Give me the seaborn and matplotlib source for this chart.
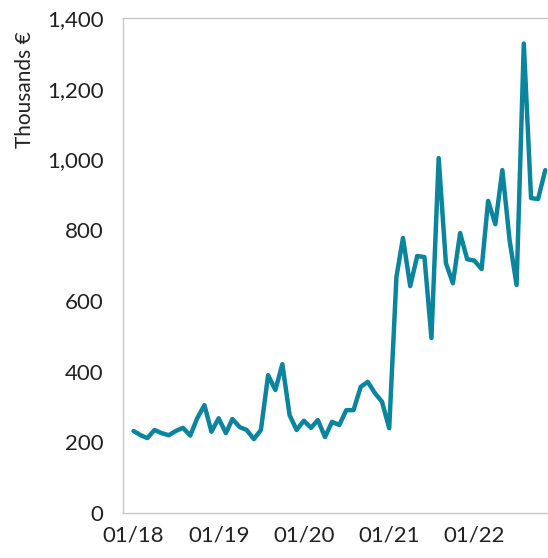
import numpy as np
import pandas as pd
import matplotlib
matplotlib.use("Agg")
import matplotlib.pyplot as plt
import matplotlib.dates as mdates
from matplotlib.ticker import FuncFormatter
import seaborn as sns

# monthly values, thousands of euros, Jan 2018 - Nov 2022
values = [
    232, 220, 212, 235, 226, 220, 232, 241, 219, 268, 305, 230,
    268, 226, 266, 243, 235, 209, 235, 390, 348, 421, 277, 235,
    261, 241, 263, 215, 258, 249, 291, 291, 357, 371, 339, 315,
    240, 668, 778, 642, 727, 724, 495, 1004, 707, 650, 792, 718,
    714, 690, 883, 817, 970, 772, 645, 1328, 891, 888, 970,
]
months = pd.date_range("2018-01-01", periods=len(values), freq="MS")
year_ticks = pd.to_datetime(["2018-01-01", "2019-01-01", "2020-01-01",
                             "2021-01-01", "2022-01-01"])
y_ticks = [0, 200, 400, 600, 800, 1000, 1200, 1400]

df = pd.DataFrame({"month": months, "value": values})

sns.set_theme(style="white")
plt.rcParams['font.family'] = ['Lato', 'DejaVu Sans']

fig = plt.figure(figsize=(5.48, 5.58), dpi=100)
ax = fig.add_axes([0.2245, 0.0806, 0.785, 0.887])

sns.lineplot(data=df, x="month", y="value", ax=ax, color="#0B849E", linewidth=3.2)

ax.set_ylim(0, 1400)
ax.set_yticks(y_ticks)
ax.yaxis.set_major_formatter(FuncFormatter(lambda v, p: f"{int(v):,}"))
ax.set_xlim(pd.Timestamp("2017-11-17"), pd.Timestamp("2022-12-05"))
ax.set_xticks(year_ticks)
ax.xaxis.set_major_formatter(mdates.DateFormatter("%m/%y"))

ax.tick_params(axis="y", length=0, pad=14, labelsize=16, colors="#222222")
ax.tick_params(axis="x", length=0, pad=9, labelsize=16, colors="#222222")
ax.set_xlabel("")
ax.set_ylabel("Thousands €", fontsize=15, color="#222222")
ax.yaxis.set_label_coords(-0.205, 0.855)

for sp in ax.spines.values():
    sp.set_color("#C8C8C8")
    sp.set_linewidth(1)

fig.savefig("out.png", dpi=100, facecolor="white")
